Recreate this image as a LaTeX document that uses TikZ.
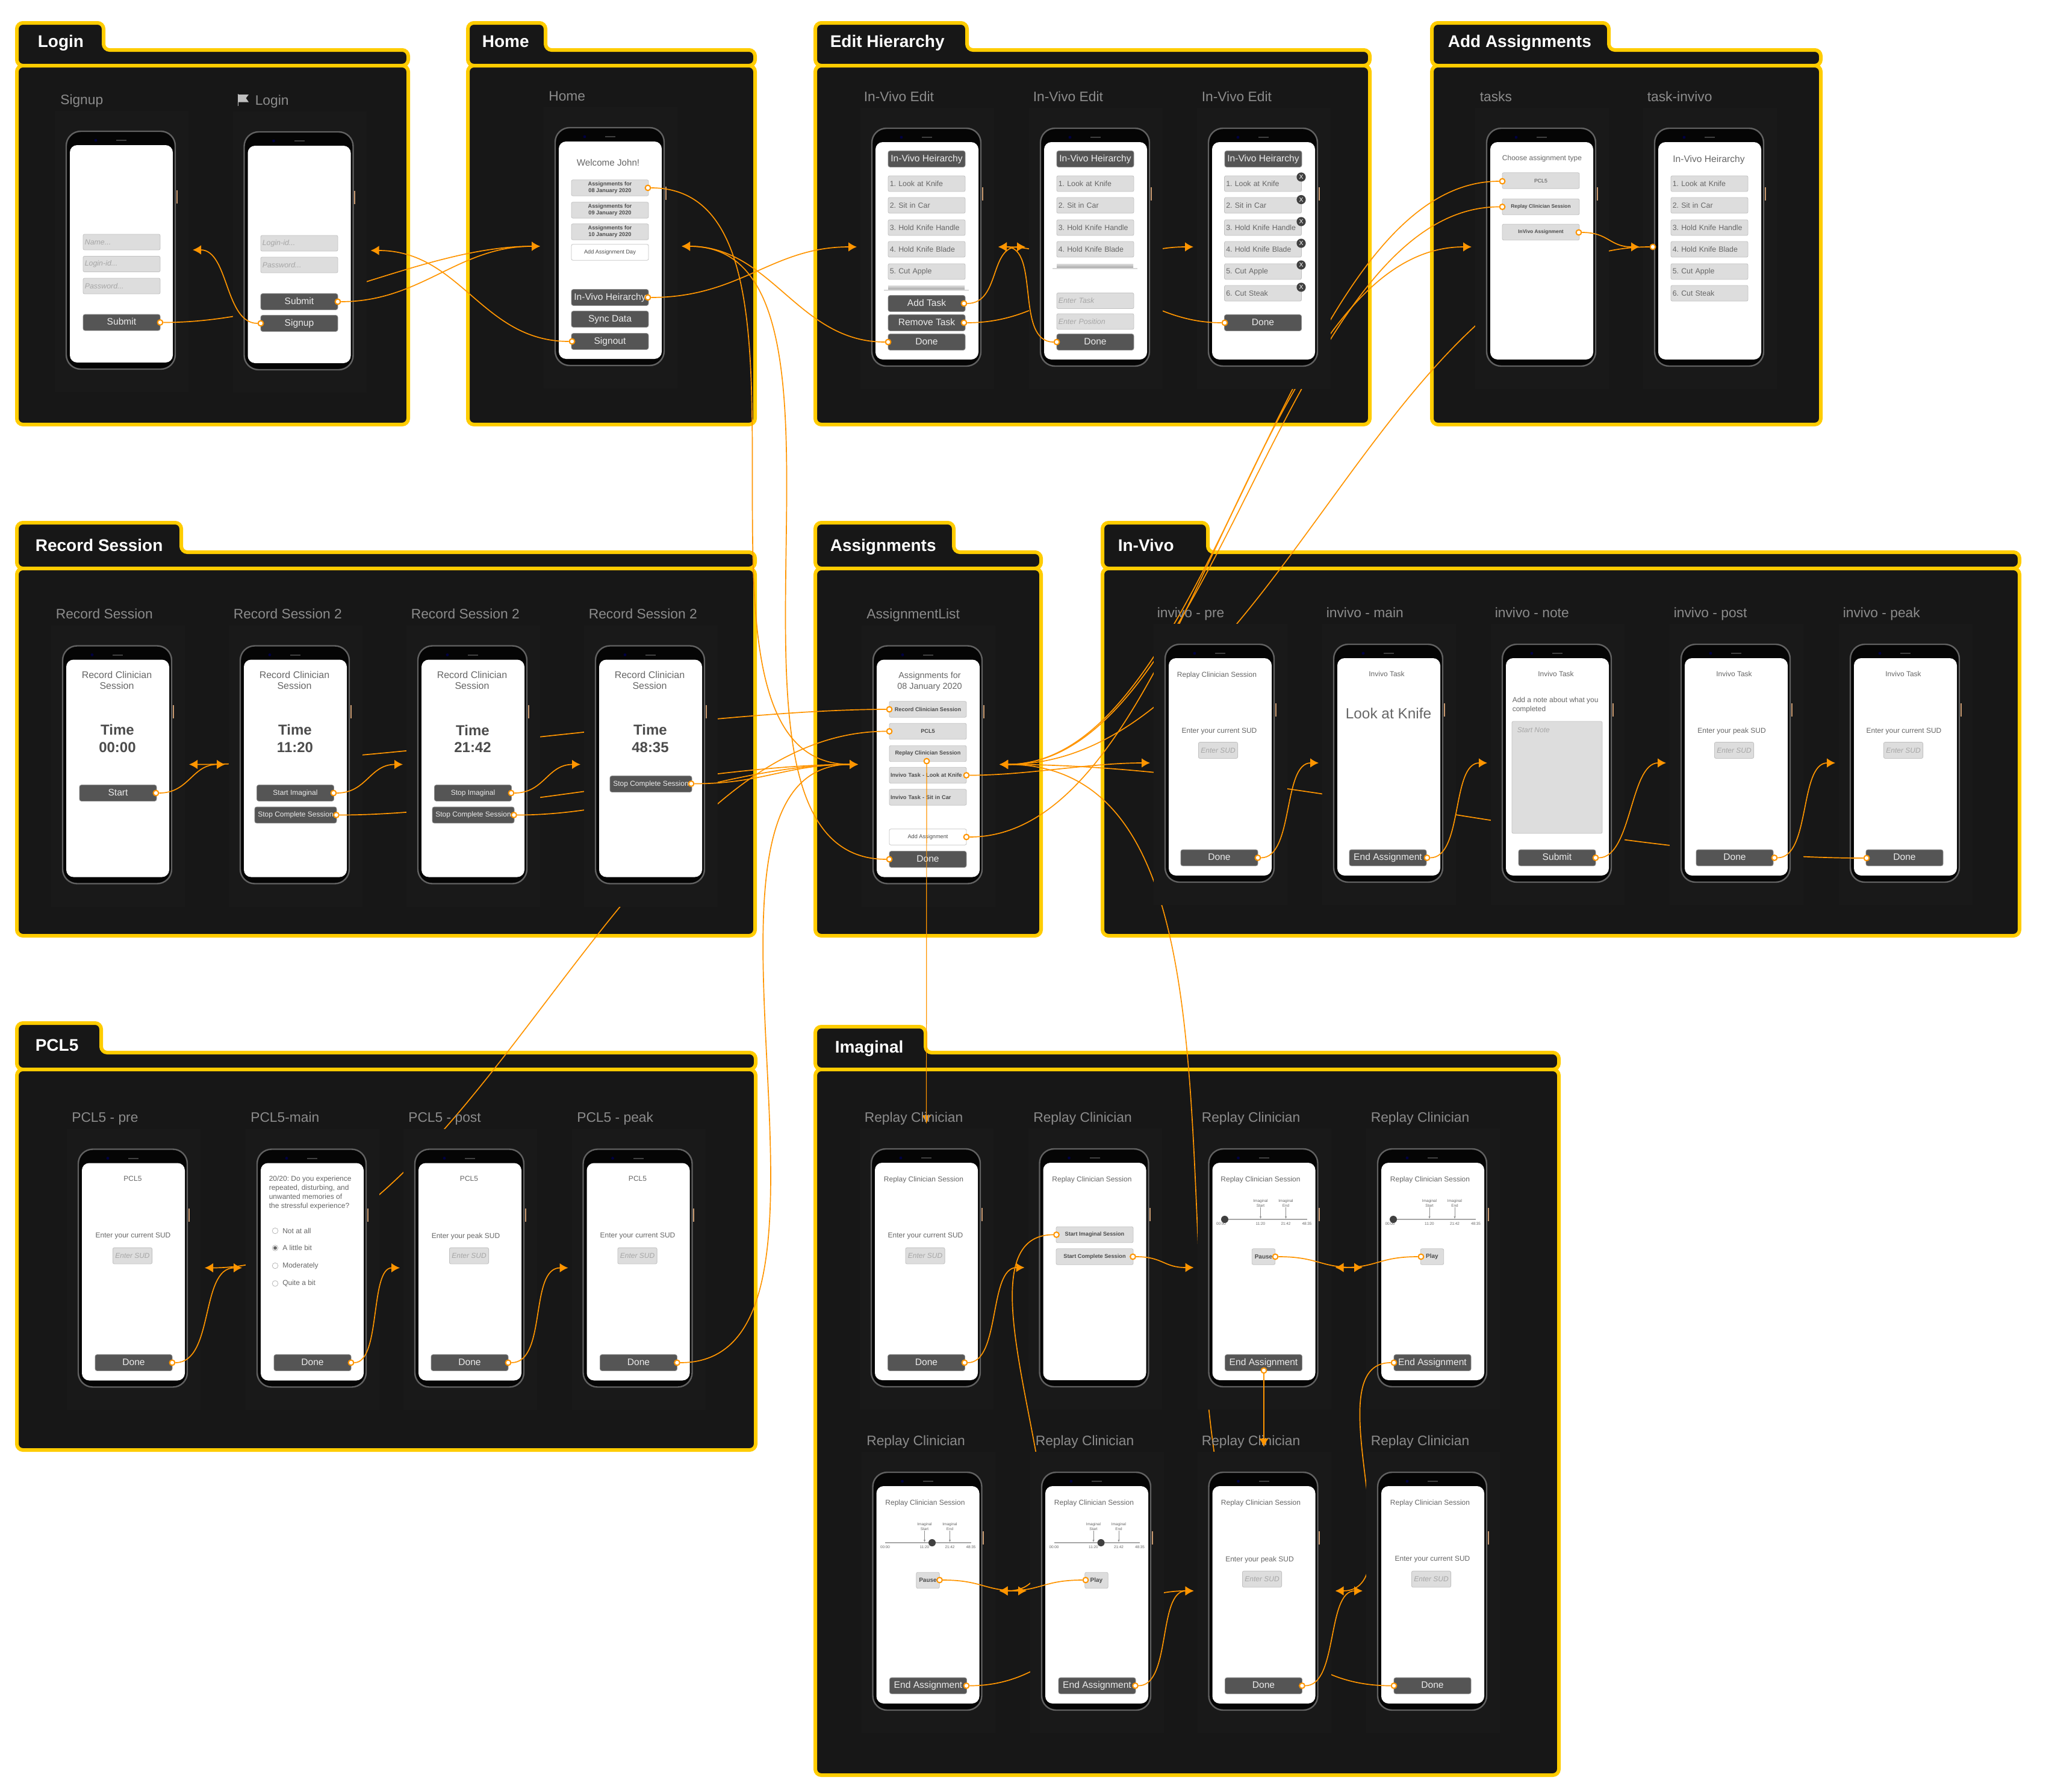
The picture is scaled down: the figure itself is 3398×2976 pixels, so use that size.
\documentclass[tikz,border=0pt]{standalone}
\usepackage{fontspec}
\setmainfont{Liberation Sans}
\usetikzlibrary{arrows.meta}
\frenchspacing

\definecolor{panelyellow}{HTML}{FFCC00}
\definecolor{panelfill}{HTML}{171717}
\definecolor{artfill}{HTML}{191919}
\definecolor{linkorange}{HTML}{FF9500}
\definecolor{btngray}{HTML}{555555}
\definecolor{fieldgray}{HTML}{DDDDDD}
\definecolor{edgegray}{HTML}{C2C2C2}
\definecolor{inkgray}{HTML}{666666}
\definecolor{capgray}{HTML}{8C8C8C}
\definecolor{sidetan}{HTML}{C99A70}

\newcommand{\phoneat}[3]{%
  \coordinate (#1) at (#2,#3);
  \coordinate (#1-in) at (#2-25,#3+197);
  \coordinate (#1-back) at (#2+210,#3+197);
  \coordinate (#1-top) at (#2+91.5,#3-42);
}
\newenvironment{phone}[3]{%
  \begin{scope}[shift={(#1)}]
  \fill[artfill] (-19,-34) rectangle (203,433);
  \node[caption] (#1-cap) at (#2,-53) {#3};
  \draw[fill=black!98,draw=black!62,line width=.6pt,rounded corners=6pt] (0,0) rectangle (181,395);
  \fill[white,rounded corners=3pt] (6,23) rectangle (177,384);
  \fill[blue!25!black] (49,15) circle (.6pt);
  \fill[black!75] (83,14) rectangle (100,16);
  \fill[sidetan] (182.5,98) rectangle (184.5,120);
}{\end{scope}}

\newcommand{\taskrows}[3]{%
  \foreach \i/\yy/\lbl in {1/92/1. Look at Knife,2/128/2. Sit in Car,3/165/3. Hold Knife Handle,4/201/4. Hold Knife Blade,5/238/5. Cut Apple,6/274/6. Cut Steak}{
    \ifnum\i>#3\else\node[fieldbox] (#1-row\i) at (#2,\yy) {\lbl};\fi
  }
}
\newcommand{\scrubline}[3]{%
  \fill[black!35] (#2,116.2) rectangle (163,117.8);
  \node[ticktext] (#1-start) at (86,90) {Imaginal\\Start};
  \node[ticktext] (#1-end) at (128,90) {Imaginal\\End};
  \coordinate (#1-startmark) at (86,116);
  \coordinate (#1-endmark) at (128,116);
  \draw[ticklink] (#1-start) -- (#1-startmark);
  \draw[ticklink] (#1-end) -- (#1-endmark);
  \foreach \xx/\lbl/\nm in {20.5/00:00/a,86/11:20/b,128/21:42/c,163/48:35/d}{
    \node[ticktext] (#1-time\nm) at (\xx,124) {\lbl};
  }
  \fill[black!75] (#3,117) circle (1.5pt);
}

\begin{document}
\begin{tikzpicture}[x=0.25pt,y=-0.25pt,
  folder/.style={draw=panelyellow,fill=panelfill,line width=1.5pt,rounded corners=2.5pt},
  paneltitle/.style={text=white,anchor=west,inner sep=0pt,text height=5pt,text depth=0pt,font=\fontsize{7}{8}\selectfont\bfseries},
  caption/.style={text=capgray,anchor=west,inner sep=0pt,text height=4.1pt,text depth=0pt,font=\fontsize{5.7}{6.8}\selectfont},
  darkbtn/.style={fill=btngray,draw=black!45,line width=.2pt,rounded corners=.8pt,text=white!92!black,minimum width=32pt,minimum height=6.7pt,inner sep=0pt,text height=2.8pt,text depth=.6pt,font=\fontsize{3.9}{4.6}\selectfont},
  slimbtn/.style={darkbtn,text height=2.2pt,text depth=.5pt,font=\fontsize{3}{3.6}\selectfont},
  widebtn/.style={slimbtn,minimum width=34pt},
  fieldbox/.style={fill=fieldgray,draw=edgegray,line width=.2pt,rounded corners=.6pt,text=inkgray,text width=30.6pt,minimum height=6.5pt,inner xsep=.7pt,inner ysep=0pt,align=left,font=\fontsize{3.1}{3.7}\selectfont},
  hintbox/.style={fieldbox,text=black!35,font=\fontsize{3.1}{3.7}\selectfont\itshape},
  sudbox/.style={fill=fieldgray,draw=edgegray,line width=.2pt,rounded corners=.6pt,text=black!35,minimum width=16.3pt,minimum height=6.7pt,inner sep=0pt,font=\fontsize{3}{3.6}\selectfont\itshape},
  tagbox/.style={fill=fieldgray,draw=edgegray,line width=.2pt,rounded corners=.6pt,text=black!70,minimum width=32pt,minimum height=6.6pt,inner sep=0pt,align=center,font=\fontsize{2.3}{2.75}\selectfont\bfseries},
  plainbox/.style={tagbox,fill=white,font=\fontsize{2.3}{2.75}\selectfont},
  stopbox/.style={tagbox,minimum width=9.6pt,font=\fontsize{2.5}{3}\selectfont\bfseries},
  smalltext/.style={text=inkgray,inner sep=0pt,align=center,font=\fontsize{3}{3.7}\selectfont},
  headtext/.style={smalltext,font=\fontsize{4}{4.5}\selectfont},
  timetext/.style={text=black!70,inner sep=0pt,align=center,font=\fontsize{6}{7.1}\selectfont\bfseries},
  ticktext/.style={text=inkgray,inner sep=0pt,align=center,font=\fontsize{1.6}{2.1}\selectfont},
  ticklink/.style={draw=black!45,line width=.12pt,-{Latex[length=.9pt,width=.8pt]}},
  closemark/.style={circle,fill=black!75,text=white,minimum size=3.8pt,inner sep=0pt,font=\fontsize{2.6}{3}\selectfont},
  radiomark/.style={circle,draw=black!35,fill=white,line width=.15pt,minimum size=2.4pt,inner sep=0pt},
  port/.style={circle,draw=linkorange,fill=white,line width=.5pt,minimum size=2.2pt,inner sep=0pt},
  link/.style={draw=linkorange,line width=.42pt,-{Latex[length=3.5pt,width=3.9pt]}}]

\fill[white] (0,0) rectangle (3398,2976);
\useasboundingbox (0,0) rectangle (3398,2976);

\foreach \pname/\ptitle/\tx/\ty/\lx/\tabx/\topy/\stepy/\boxy/\rx/\boty in {
  loginpanel/Login/62/69/28/172/38/83/109/678/705,
  homepanel/Home/800/69/777/906/38/83/109/1254/705,
  editpanel/Edit Hierarchy/1378/69/1354/1606/38/83/109/2275/705,
  addpanel/Add Assignments/2404/69/2378/2672/38/83/109/3024/705,
  recordpanel/Record Session/58/905/28/301/868/917/944/1254/1554,
  assignpanel/Assignments/1378/905/1354/1584/868/917/944/1729/1554,
  invivopanel/In-Vivo/1856/905/1831/2006/868/917/944/3354/1554,
  pclpanel/PCL5/58/1735/28/168/1699/1748/1776/1255/2408,
  imaginalpanel/Imaginal/1386/1738/1354/1537/1705/1748/1776/2589/2948}{
  \draw[folder] (\lx,\boxy) -- (\lx,\topy) -- (\tabx,\topy) -- (\tabx,\stepy) -- (\rx,\stepy) -- (\rx,\boxy) -- cycle;
  \draw[folder] (\lx,\boxy) rectangle (\rx,\boty);
  \node[paneltitle] (\pname) at (\tx,\ty) {\ptitle};
}

\phoneat{signup}{110}{218}
\phoneat{login}{405.5}{219}
\phoneat{home}{922}{212}
\phoneat{edita}{1448}{213}
\phoneat{editb}{1728}{213}
\phoneat{editc}{2007}{213}
\phoneat{tasks}{2469}{213}
\phoneat{taskinv}{2748}{213}
\phoneat{reca}{104}{1072.5}
\phoneat{recb}{399}{1072.5}
\phoneat{recc}{694}{1072.5}
\phoneat{recd}{989}{1072.5}
\phoneat{assign}{1450}{1072.5}
\phoneat{invpre}{1935}{1070}
\phoneat{invmain}{2215}{1070}
\phoneat{invnote}{2495}{1070}
\phoneat{invpost}{2792}{1070}
\phoneat{invpeak}{3073}{1070}
\phoneat{pclpre}{130}{1908.5}
\phoneat{pclmain}{427}{1908.5}
\phoneat{pclpost}{689}{1908.5}
\phoneat{pclpeak}{968.5}{1908.5}
\phoneat{repa}{1447}{1908}
\phoneat{repb}{1726.5}{1908}
\phoneat{repc}{2007.5}{1908}
\phoneat{repd}{2288}{1908}
\phoneat{repe}{1449.5}{2445}
\phoneat{repf}{1730}{2445}
\phoneat{repg}{2007.5}{2445}
\phoneat{reph}{2288}{2445}

\begin{phone}{signup}{-10.5}{Signup}
  \node[hintbox] (signup-name) at (92,184) {Name...};
  \node[hintbox] (signup-id) at (92,220.5) {Login-id...};
  \node[hintbox] (signup-pass) at (92,257) {Password...};
  \node[darkbtn] (signup-submit) at (92,317.5) {Submit};
  \node[port] (signup-submit-port) at (156,317.5) {};
\end{phone}
\draw[link] (signup-submit-port) .. controls +(234,0) and +(-197,0) .. (home-in);

\begin{phone}{login}{17.5}{Login}
  \fill[black!25] (-10.5,-63) -- (-9.5,-63) -- (-9.5,-43) -- (-10.5,-43) -- cycle;
  \fill[black!25] (-9.5,-62) -- (7.5,-62) -- (3,-56) -- (7.5,-49.5) -- (-9.5,-49.5) -- cycle;
  \node[hintbox] (login-id) at (91.5,185) {Login-id...};
  \node[hintbox] (login-pass) at (91.5,221) {Password...};
  \node[darkbtn] (login-submit) at (91.5,282) {Submit};
  \node[darkbtn] (login-signup) at (91.5,318) {Signup};
  \node[port] (login-submit-port) at (155.5,282) {};
  \node[port] (login-signup-port) at (27.5,318) {};
\end{phone}
\draw[link] (login-submit-port) .. controls +(139,0) and +(-137,0) .. (home-in);
\draw[link] (login-signup-port) .. controls +(-60,0) and +(60,0) .. (signup-back);

\begin{phone}{home}{-11.5}{Home}
  \node[smalltext,font=\fontsize{3.8}{4.5}\selectfont] (home-hello) at (88,58) {Welcome John!};
  \node[tagbox] (home-day-a) at (91,100) {Assignments for\\08 January 2020};
  \node[tagbox] (home-day-b) at (91,137) {Assignments for\\09 January 2020};
  \node[tagbox] (home-day-c) at (91,173) {Assignments for\\10 January 2020};
  \node[plainbox] (home-addday) at (91,207) {Add Assignment Day};
  \node[darkbtn] (home-hier) at (91,282) {In-Vivo Heirarchy};
  \node[darkbtn] (home-sync) at (91,318) {Sync Data};
  \node[darkbtn] (home-signout) at (91,355) {Signout};
  \node[port] (home-day-port) at (154,100) {};
  \node[port] (home-hier-port) at (154,282) {};
  \node[port] (home-signout-port) at (28,355) {};
\end{phone}
\draw[link] (home-signout-port) .. controls +(-150,0) and +(150,0) .. (login-back);
\draw[link] (home-day-port) .. controls +(340,0) and +(-340,0) .. (assign-in);
\draw[link] (home-hier-port) .. controls +(154,0) and +(-141,0) .. (edita-in);

\begin{phone}{taskinv}{-13}{task-invivo}
  \node[smalltext,font=\fontsize{3.9}{4.6}\selectfont] (taskinv-head) at (90,52) {In-Vivo Heirarchy};
  \taskrows{taskinv}{91}{6}
  \node[port] (taskinv-port) at (-3,197) {};
\end{phone}
\draw[link] (taskinv-port) .. controls +(-450,0) and +(450,0) .. (assign-back);

\begin{phone}{tasks}{-12}{tasks}
  \node[smalltext] (tasks-head) at (92,50) {Choose assignment type};
  \node[tagbox,font=\fontsize{2.2}{2.6}\selectfont] (tasks-pcl) at (90,87) {PCL5};
  \node[tagbox,font=\fontsize{2.1}{2.6}\selectfont\bfseries] (tasks-replay) at (90,130.5) {Replay Clinician Session};
  \node[tagbox,font=\fontsize{2.1}{2.6}\selectfont\bfseries] (tasks-invivo) at (90,172.5) {InVivo Assignment};
  \node[port] (tasks-pcl-port) at (26,88) {};
  \node[port] (tasks-replay-port) at (26,130.5) {};
  \node[port] (tasks-invivo-port) at (153,173) {};
\end{phone}
\draw[link] (tasks-pcl-port) .. controls +(-360,0) and +(360,0) .. (assign-back);
\draw[link] (tasks-replay-port) .. controls +(-360,0) and +(360,0) .. (assign-back);
\draw[link] (tasks-invivo-port) .. controls +(50,0) and +(-50,0) .. (taskinv-in);

\begin{phone}{assign}{-11.5}{AssignmentList}
  \node[smalltext,font=\fontsize{3.6}{4.5}\selectfont] (assign-head) at (94,59.5) {Assignments for\\08 January 2020};
  \node[tagbox] (assign-record) at (91,105.5) {Record Clinician Session};
  \node[tagbox] (assign-pcl) at (91,142) {PCL5};
  \node[tagbox] (assign-replay) at (91,179) {Replay Clinician Session};
  \node[tagbox,text width=31pt,align=left] (assign-knife) at (91,215) {Invivo Task - Look at Knife};
  \node[tagbox,text width=31pt,align=left] (assign-car) at (91,251.5) {Invivo Task - Sit in Car};
  \node[plainbox] (assign-add) at (91,317.5) {Add Assignment};
  \node[darkbtn] (assign-done) at (91,354.5) {Done};
  \node[port] (assign-record-port) at (27,105.5) {};
  \node[port] (assign-pcl-port) at (27,142) {};
  \node[port] (assign-replay-port) at (89,191.5) {};
  \node[port] (assign-knife-port) at (155,215) {};
  \node[port] (assign-add-port) at (155,317.5) {};
  \node[port] (assign-done-port) at (27,354.5) {};
\end{phone}
\draw[link] (assign-record-port) .. controls +(-300,0) and +(300,0) .. (reca-back);
\draw[link] (assign-pcl-port) .. controls +(-450,0) and +(450,0) .. (pclpre-back);
\draw[link,line width=.3pt] (assign-replay-port) -- (repa-top);
\draw[link] (assign-knife-port) .. controls +(100,0) and +(-100,0) .. (invpre-in);
\draw[link] (assign-add-port) .. controls +(370,0) and +(-370,0) .. (tasks-in);
\draw[link] (assign-done-port) .. controls +(-350,0) and +(350,0) .. (home-back);

\begin{phone}{reca}{-12}{Record Session}
  \node[headtext] (reca-head) at (90,57.5) {Record Clinician\\Session};
  \node[timetext] (reca-time) at (91,154) {Time\\00:00};
  \node[darkbtn] (reca-start) at (92,244.5) {Start};
  \node[port] (reca-port) at (155,244.5) {};
\end{phone}
\draw[link] (reca-port) .. controls +(55,0) and +(-55,0) .. (recb-in);

\begin{phone}{recb}{-12}{Record Session 2}
  \node[headtext] (recb-head) at (90,57.5) {Record Clinician\\Session};
  \node[timetext] (recb-time) at (91,154) {Time\\11:20};
  \node[slimbtn] (recb-start) at (91.5,244.5) {Start Imaginal};
  \node[widebtn] (recb-stop) at (92,281) {Stop Complete Session};
  \node[port] (recb-start-port) at (155,244.5) {};
  \node[port] (recb-stop-port) at (159.5,281) {};
\end{phone}
\draw[link] (recb-start-port) .. controls +(55,0) and +(-55,0) .. (recc-in);
\draw[link] (recb-stop-port) .. controls +(250,0) and +(-250,0) .. (assign-in);

\begin{phone}{recc}{-12}{Record Session 2}
  \node[headtext] (recc-head) at (90,57.5) {Record Clinician\\Session};
  \node[timetext] (recc-time) at (91,154) {Time\\21:42};
  \node[slimbtn] (recc-start) at (91.5,244.5) {Stop Imaginal};
  \node[widebtn] (recc-stop) at (92,281) {Stop Complete Session};
  \node[port] (recc-start-port) at (155,244.5) {};
  \node[port] (recc-stop-port) at (159.5,281) {};
\end{phone}
\draw[link] (recc-start-port) .. controls +(55,0) and +(-55,0) .. (recd-in);
\draw[link] (recc-stop-port) .. controls +(200,0) and +(-200,0) .. (assign-in);

\begin{phone}{recd}{-12}{Record Session 2}
  \node[headtext] (recd-head) at (90,57.5) {Record Clinician\\Session};
  \node[timetext] (recd-time) at (91,154) {Time\\48:35};
  \node[widebtn] (recd-stop) at (92,229.5) {Stop Complete Session};
  \node[port] (recd-port) at (159,229) {};
\end{phone}
\draw[link] (recd-port) .. controls +(120,0) and +(-120,0) .. (assign-in);

\begin{phone}{edita}{-14}{In-Vivo Edit}
  \node[darkbtn] (edita-hier) at (91,51) {In-Vivo Heirarchy};
  \taskrows{edita}{91}{5}
  \shade[top color=fieldgray,bottom color=black!35] (27,261) rectangle (154,268);
  \fill[black!15] (20,268) rectangle (161,270);
  \node[darkbtn] (edita-add) at (91,291) {Add Task};
  \node[darkbtn] (edita-remove) at (91,323) {Remove Task};
  \node[darkbtn] (edita-done) at (91,355) {Done};
  \node[port] (edita-add-port) at (153,291) {};
  \node[port] (edita-remove-port) at (153,323) {};
  \node[port] (edita-done-port) at (27,355) {};
\end{phone}
\draw[link] (edita-add-port) .. controls +(60,0) and +(-60,0) .. (editb-in);
\draw[link] (edita-remove-port) .. controls +(160,0) and +(-160,0) .. (editc-in);
\draw[link] (edita-done-port) .. controls +(-150,0) and +(150,0) .. (home-back);

\begin{phone}{editc}{-12}{In-Vivo Edit}
  \node[darkbtn] (editc-hier) at (91,51) {In-Vivo Heirarchy};
  \taskrows{editc}{90.5}{6}
  \foreach \i/\yy in {1/81,2/118.5,3/155,4/191,5/227,6/264}{
    \node[closemark] (editc-close\i) at (154,\yy) {X};
  }
  \node[darkbtn] (editc-done) at (90.5,323) {Done};
  \node[port] (editc-done-port) at (27,323) {};
\end{phone}
\draw[link] (editc-done-port) .. controls +(-150,0) and +(150,0) .. (edita-back);

\begin{phone}{editb}{-13}{In-Vivo Edit}
  \node[darkbtn] (editb-hier) at (91,51) {In-Vivo Heirarchy};
  \taskrows{editb}{91}{4}
  \shade[top color=fieldgray,bottom color=black!35] (27,225) rectangle (154,232);
  \fill[black!15] (20,232) rectangle (161,234);
  \node[hintbox] (editb-task) at (91,286.5) {Enter Task};
  \node[hintbox] (editb-pos) at (91,321) {Enter Position};
  \node[darkbtn] (editb-done) at (91,355) {Done};
  \node[port] (editb-done-port) at (27,355) {};
\end{phone}
\draw[link] (editb-done-port) .. controls +(-70,0) and +(70,0) .. (edita-back);

\begin{phone}{invpeak}{-13}{invivo - peak}
  \node[smalltext] (invpeak-head) at (88,49) {Invivo Task};
  \node[smalltext] (invpeak-sud) at (89,144.5) {Enter your current SUD};
  \node[sudbox] (invpeak-box) at (88,176) {Enter SUD};
  \node[darkbtn] (invpeak-done) at (90,354.5) {Done};
  \node[port] (invpeak-port) at (27,355) {};
\end{phone}
\draw[link] (invpeak-port) .. controls +(-450,0) and +(450,0) .. (assign-back);

\begin{phone}{invpost}{-13}{invivo - post}
  \node[smalltext] (invpost-head) at (88,49) {Invivo Task};
  \node[smalltext] (invpost-sud) at (84,144.5) {Enter your peak SUD};
  \node[sudbox] (invpost-box) at (88,176) {Enter SUD};
  \node[darkbtn] (invpost-done) at (89,354.5) {Done};
  \node[port] (invpost-port) at (155,354.5) {};
\end{phone}
\draw[link] (invpost-port) .. controls +(60,0) and +(-60,0) .. (invpeak-in);

\begin{phone}{invnote}{-13}{invivo - note}
  \node[smalltext] (invnote-head) at (89,49) {Invivo Task};
  \node[smalltext,anchor=west,align=left] (invnote-ask) at (16,101) {Add a note about what you\\completed};
  \node[fill=fieldgray,draw=edgegray,line width=.2pt,rounded corners=.6pt,minimum width=37.5pt,minimum height=46.5pt,inner sep=0pt] (invnote-box) at (91,221) {};
  \node[smalltext,anchor=west,text=black!35,font=\fontsize{3}{3.6}\selectfont\itshape] (invnote-hint) at (24,142.5) {Start Note};
  \node[darkbtn] (invnote-submit) at (91,354.5) {Submit};
  \node[port] (invnote-port) at (155,354.5) {};
\end{phone}
\draw[link] (invnote-port) .. controls +(60,0) and +(-60,0) .. (invpost-in);

\begin{phone}{invmain}{-13}{invivo - main}
  \node[smalltext] (invmain-head) at (88,49) {Invivo Task};
  \node[smalltext,font=\fontsize{6.1}{7.2}\selectfont] (invmain-task) at (91,115) {Look at Knife};
  \node[darkbtn] (invmain-end) at (90,354.5) {End Assignment};
  \node[port] (invmain-port) at (155,354.5) {};
\end{phone}
\draw[link] (invmain-port) .. controls +(60,0) and +(-60,0) .. (invnote-in);

\begin{phone}{repd}{-12}{Replay Clinician}
  \node[smalltext] (repd-head) at (87,51) {Replay Clinician Session};
  \scrubline{repd}{26}{26}
  \node[stopbox] (repd-play) at (90.5,179) {Play};
  \node[darkbtn] (repd-end) at (91,355) {End Assignment};
  \node[port] (repd-play-port) at (72,179) {};
  \node[port] (repd-end-port) at (27,355) {};
\end{phone}
\draw[link] (repd-play-port) .. controls +(-70,0) and +(70,0) .. (repc-back);
\draw[link] (repd-end-port) .. controls +(-135,0) and +(135,0) .. (repg-back);

\begin{phone}{reph}{-12}{Replay Clinician}
  \node[smalltext] (reph-head) at (87,51) {Replay Clinician Session};
  \node[smalltext] (reph-sud) at (91,145) {Enter your current SUD};
  \node[sudbox] (reph-box) at (89,177.5) {Enter SUD};
  \node[darkbtn] (reph-done) at (91,354.5) {Done};
  \node[port] (reph-port) at (27,354.5) {};
\end{phone}
\draw[link] (reph-port) .. controls +(-580,0) and +(580,0) .. (assign-back);

\begin{phone}{repg}{-12.5}{Replay Clinician}
  \node[smalltext] (repg-head) at (86.5,51) {Replay Clinician Session};
  \node[smalltext] (repg-sud) at (84.5,145) {Enter your peak SUD};
  \node[sudbox] (repg-box) at (88.5,177.5) {Enter SUD};
  \node[darkbtn] (repg-done) at (91,354.5) {Done};
  \node[port] (repg-port) at (155,354.5) {};
\end{phone}
\draw[link] (repg-port) .. controls +(60,0) and +(-60,0) .. (reph-in);

\begin{phone}{repc}{-12.5}{Replay Clinician}
  \node[smalltext] (repc-head) at (86,51) {Replay Clinician Session};
  \scrubline{repc}{26.5}{26.5}
  \node[stopbox] (repc-pause) at (91,179) {Pause};
  \node[darkbtn] (repc-end) at (91,355) {End Assignment};
  \node[port] (repc-pause-port) at (110.5,179) {};
  \node[port] (repc-end-port) at (91.5,368) {};
\end{phone}
\draw[link] (repc-pause-port) .. controls +(70,0) and +(-70,0) .. (repd-in);
\draw[link] (repc-end-port) -- (repg-top);

\begin{phone}{repa}{-12}{Replay Clinician}
  \node[smalltext] (repa-head) at (87,51) {Replay Clinician Session};
  \node[smalltext] (repa-sud) at (90,145) {Enter your current SUD};
  \node[sudbox] (repa-box) at (89.5,177.5) {Enter SUD};
  \node[darkbtn] (repa-done) at (91.5,355) {Done};
  \node[port] (repa-port) at (155,355) {};
\end{phone}
\draw[link] (repa-port) .. controls +(60,0) and +(-60,0) .. (repb-in);

\begin{phone}{repb}{-11}{Replay Clinician}
  \node[smalltext] (repb-head) at (87,51) {Replay Clinician Session};
  \node[tagbox] (repb-imag) at (91.5,142.5) {Start Imaginal Session};
  \node[tagbox] (repb-full) at (91.5,179) {Start Complete Session};
  \node[port] (repb-imag-port) at (28,142.5) {};
  \node[port] (repb-full-port) at (155,179) {};
\end{phone}
\draw[link] (repb-imag-port) .. controls +(-200,0) and +(200,0) .. (repe-back);
\draw[link] (repb-full-port) .. controls +(50,0) and +(-50,0) .. (repc-in);

\begin{phone}{repe}{-11}{Replay Clinician}
  \node[smalltext] (repe-head) at (87,51) {Replay Clinician Session};
  \scrubline{repe}{20.5}{98.5}
  \node[stopbox] (repe-pause) at (91.5,179.5) {Pause};
  \node[darkbtn] (repe-end) at (92,354.5) {End Assignment};
  \node[port] (repe-pause-port) at (111,179) {};
  \node[port] (repe-end-port) at (155.5,354.5) {};
\end{phone}
\draw[link] (repe-pause-port) .. controls +(70,0) and +(-70,0) .. (repf-in);
\draw[link] (repe-end-port) .. controls +(170,0) and +(-170,0) .. (repg-in);

\begin{phone}{repf}{-11}{Replay Clinician}
  \node[smalltext] (repf-head) at (87,51) {Replay Clinician Session};
  \scrubline{repf}{20.5}{98.5}
  \node[stopbox] (repf-play) at (91,179.5) {Play};
  \node[darkbtn] (repf-end) at (92,354.5) {End Assignment};
  \node[port] (repf-play-port) at (73,179) {};
  \node[port] (repf-end-port) at (155.5,354.5) {};
\end{phone}
\draw[link] (repf-play-port) .. controls +(-70,0) and +(70,0) .. (repe-back);
\draw[link] (repf-end-port) .. controls +(60,0) and +(-60,0) .. (repg-in);

\begin{phone}{invpre}{-14}{invivo - pre}
  \node[smalltext] (invpre-head) at (86,51) {Replay Clinician Session};
  \node[smalltext] (invpre-sud) at (90,144.5) {Enter your current SUD};
  \node[sudbox] (invpre-box) at (88,176) {Enter SUD};
  \node[darkbtn] (invpre-done) at (90,354.5) {Done};
  \node[port] (invpre-port) at (154,354.5) {};
\end{phone}
\draw[link] (invpre-port) .. controls +(60,0) and +(-60,0) .. (invmain-in);

\begin{phone}{pclpre}{-11.5}{PCL5 - pre}
  \node[smalltext] (pclpre-head) at (90.5,49) {PCL5};
  \node[smalltext] (pclpre-sud) at (91,144.5) {Enter your current SUD};
  \node[sudbox] (pclpre-box) at (90,177) {Enter SUD};
  \node[darkbtn] (pclpre-done) at (92,354.5) {Done};
  \node[port] (pclpre-port) at (156,354.5) {};
\end{phone}
\draw[link] (pclpre-port) .. controls +(70,0) and +(-70,0) .. (pclmain-in);

\begin{phone}{pclmain}{-11.5}{PCL5-main}
  \node[smalltext,anchor=west,align=left] (pclmain-ask) at (19,72.5) {20/20: Do you experience\\repeated, disturbing, and\\unwanted memories of\\the stressful experience?};
  \foreach \i/\yy/\lbl in {1/135.5/Not at all,2/164/A little bit,3/193.5/Moderately,4/223/Quite a bit}{
    \node[radiomark] (pclmain-radio\i) at (30,\yy) {};
    \node[smalltext,anchor=west] (pclmain-opt\i) at (41.5,\yy) {\lbl};
  }
  \fill[black!60] (30,164) circle (.75pt);
  \node[darkbtn] (pclmain-done) at (92,354.5) {Done};
  \node[port] (pclmain-port) at (156,354.5) {};
\end{phone}
\draw[link] (pclmain-port) .. controls +(50,0) and +(-50,0) .. (pclpost-in);

\begin{phone}{pclpost}{-11.5}{PCL5 - post}
  \node[smalltext] (pclpost-head) at (90,49) {PCL5};
  \node[smalltext] (pclpost-sud) at (84.5,144.5) {Enter your peak SUD};
  \node[sudbox] (pclpost-box) at (90,177) {Enter SUD};
  \node[darkbtn] (pclpost-done) at (91,354.5) {Done};
  \node[port] (pclpost-port) at (155,354.5) {};
\end{phone}
\draw[link] (pclpost-port) .. controls +(65,0) and +(-65,0) .. (pclpeak-in);

\begin{phone}{pclpeak}{-11}{PCL5 - peak}
  \node[smalltext] (pclpeak-head) at (90.5,49) {PCL5};
  \node[smalltext] (pclpeak-sud) at (90.5,144.5) {Enter your current SUD};
  \node[sudbox] (pclpeak-box) at (90,177) {Enter SUD};
  \node[darkbtn] (pclpeak-done) at (92,354.5) {Done};
  \node[port] (pclpeak-port) at (156,354.5) {};
\end{phone}
\draw[link] (pclpeak-port) .. controls +(340,0) and +(-340,0) .. (assign-in);

\end{tikzpicture}
\end{document}
